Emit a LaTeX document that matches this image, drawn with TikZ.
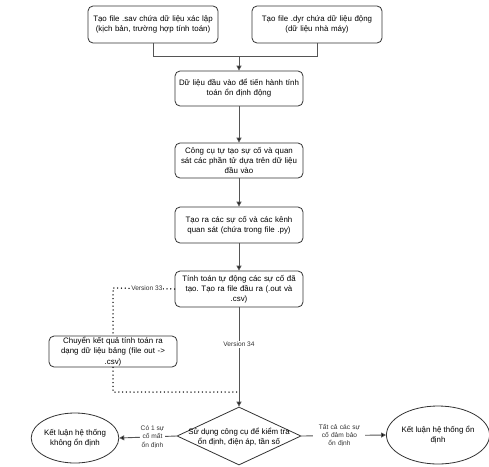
\documentclass[tikz,border=0pt]{standalone}
\usepackage{fontspec}
\setmainfont{Liberation Sans}
\usetikzlibrary{shapes.geometric,arrows.meta}
\definecolor{lineg}{HTML}{555555}
\definecolor{boxg}{HTML}{333333}
\frenchspacing
\begin{document}
\begin{tikzpicture}[x=1pt,y=-1pt,
  box/.style={draw=boxg,line width=0.8pt,rounded corners=5pt,fill=white,
    minimum width=128pt,minimum height=36pt,text width=126pt,align=center,
    inner sep=1pt,font=\fontsize{7.9}{10.2}\selectfont},
  conn/.style={draw=lineg,line width=0.9pt},
  arr/.style={conn,-{Triangle[length=5pt,width=5pt,fill=black]}},
  dotl/.style={draw=black,line width=1.5pt,line cap=round,dash pattern=on 0pt off 3.8pt},
  lab/.style={fill=white,inner sep=1pt,font=\fontsize{6.6}{8.3}\selectfont,align=center,text=boxg},
  ell/.style={draw=boxg,line width=0.8pt,ellipse,fill=white,inner sep=0pt,align=center,font=\fontsize{7.9}{10.2}\selectfont}
]
\useasboundingbox[fill=white] (0,0) rectangle (489,466);

\node[box,minimum width=130pt,minimum height=37pt] (b1) at (153,24.5) {Tạo file .sav chứa dữ liệu xác lập\\(kịch bản, trường hợp tính toán)};
\node[box,minimum width=130pt,minimum height=37pt] (b2) at (317,24.5) {Tạo file .dyr chứa dữ liệu động\\(dữ liệu nhà máy)};
\node[box,minimum height=35pt] (b3) at (239,88.5) {Dữ liệu đầu vào để tiến hành tính\\toán ổn định động};
\node[box,minimum height=35pt] (b4) at (239,160.5) {Công cụ tự tạo sự cố và quan\\sát các phần tử dựa trên dữ liệu\\đầu vào};
\node[box] (b5) at (239,225) {Tạo ra các sự cố và các kênh\\quan sát (chứa trong file .py)};
\node[box] (b6) at (239,289) {Tính toán tự động các sự cố đã\\tạo. Tạo ra file đầu ra (.out và\\.csv)};
\node[box,minimum height=31pt] (b7) at (113,351.5) {Chuyển kết quả tính toán ra\\dạng dữ liệu bảng (file out ->\\.csv)};

\node[diamond,draw=boxg,line width=0.8pt,fill=white,minimum width=124pt,minimum height=58pt,inner sep=0pt] (d) at (239,436) {};
\node[font=\fontsize{7.9}{10.2}\selectfont,align=center,inner sep=0pt] (dt) at (239,437) {Sử dụng công cụ để kiểm tra\\ổn định, điện áp, tần số};

\node[ell,minimum width=86pt,minimum height=50pt] (e1) at (75,438) {Kết luận hệ thống\\không ổn định};
\node[ell,minimum width=84pt,minimum height=58pt] (e2) at (438,435) {Kết luận hệ thống ổn\\định};

% top merge
\coordinate (m) at (239,56);
\coordinate (m1) at (153,56);
\coordinate (m2) at (317,56);
\draw[conn] (b1.south) -- (m1) -- (m2) -- (b2.south);
\draw[arr] (m) -- (b3.north);
\draw[arr] (b3.south) -- (b4.north);
\draw[arr] (b4.south) -- (b5.north);
\draw[arr] (b5.south) -- (b6.north);
\draw[arr] (b6.south) -- node[lab,pos=0.37]{Version 34} (d.north);

% version 33 dotted path
\coordinate (v1) at (113,288);
\coordinate (v2) at (113,392);
\coordinate (v3) at (237,392);
\draw[dotl] (b6.west) -- node[lab,pos=0.45]{Version 33} (v1) -- (b7.north);
\draw[dotl] (b7.south) -- (v2) -- (v3);

% outcomes
\draw[arr] (d.west) -- node[lab,pos=0.42]{Có 1 sự\\cố mất\\ổn định} (e1.east);
\draw[arr] (d.east) -- node[lab,pos=0.45,text width=50pt]{Tất cả các sự\\cố đảm bảo\\ổn định} (e2.west);
\end{tikzpicture}
\end{document}
